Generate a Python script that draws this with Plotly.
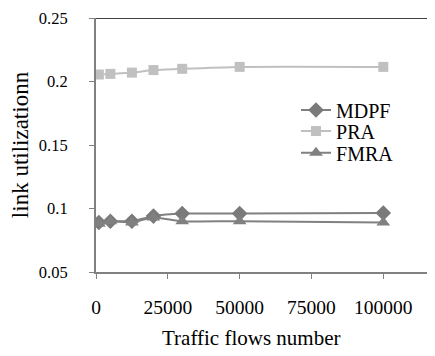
import plotly.graph_objects as go

flows = [1000, 5000, 12500, 20000, 30000, 50000, 100000]
mdpf = [0.089, 0.090, 0.090, 0.094, 0.096, 0.096, 0.0965]
pra = [0.2055, 0.206, 0.207, 0.209, 0.210, 0.2115, 0.2115]
fmra = [0.088, 0.090, 0.089, 0.093, 0.090, 0.090, 0.089]
x_ticks = [0, 25000, 50000, 75000, 100000]
x_labels = ["0", "25000", "50000", "75000", "100000"]
y_ticks = [0.05, 0.1, 0.15, 0.2, 0.25]
y_labels = ["0.05", "0.1", "0.15", "0.2", "0.25"]

FONT = "Liberation Serif, Times New Roman, serif"
fig = go.Figure()
fig.add_trace(go.Scatter(x=flows, y=mdpf, name="MDPF", mode="lines+markers", legend="legend",
                         line=dict(color="#808080", width=2, shape="spline", smoothing=0.6),
                         marker=dict(symbol="diamond", size=12, color="#7a7a7a")))
fig.add_trace(go.Scatter(x=flows, y=pra, name="PRA", mode="lines+markers", legend="legend2",
                         line=dict(color="#c0c0c0", width=2, shape="spline", smoothing=0.6),
                         marker=dict(symbol="square", size=10, color="#c0c0c0")))
fig.add_trace(go.Scatter(x=flows, y=fmra, name="FMRA", mode="lines+markers", legend="legend3",
                         line=dict(color="#808080", width=2, shape="spline", smoothing=0.6),
                         marker=dict(symbol="triangle-up", size=12, color="#808080")))

fig.add_shape(type="line", xref="paper", yref="y", x0=0, x1=1, y0=0.25, y1=0.25,
              line=dict(color="black", width=1.5))

fig.add_annotation(text="Traffic flows number", xref="paper", yref="paper",
                   x=0.457, y=-0.26, xanchor="center", yanchor="middle", showarrow=False,
                   font=dict(family=FONT, size=21, color="black"))

leg = dict(x=0.59, xanchor="left", yanchor="middle", bgcolor="rgba(0,0,0,0)",
           font=dict(family=FONT, size=20), itemsizing="trace")

fig.update_layout(
    width=427, height=348,
    margin=dict(l=88, r=0, t=10, b=84),
    paper_bgcolor="white", plot_bgcolor="white",
    font=dict(family=FONT, size=17, color="black"),
    showlegend=True,
    legend=dict(leg, y=0.638),
    legend2=dict(leg, y=0.555),
    legend3=dict(leg, y=0.469),
    xaxis=dict(range=[0, 118000], tickvals=x_ticks, ticktext=x_labels,
               showgrid=False, zeroline=False, showline=True, linecolor="#808080",
               linewidth=2, ticks="outside", ticklen=5, tickcolor="#808080",
               ticklabelstandoff=12, tickfont=dict(family=FONT, size=19.5)),
    yaxis=dict(range=[0.05, 0.25], tickvals=y_ticks, ticktext=y_labels,
               showgrid=False, zeroline=False, showline=True, linecolor="#808080",
               linewidth=2, ticks="outside", ticklen=5, tickcolor="#808080",
               ticklabelstandoff=18, tickfont=dict(family=FONT, size=16.5),
               title=dict(text="link utilizationn", standoff=9,
                          font=dict(family=FONT, size=23))),
)
fig.write_html("out.html")
